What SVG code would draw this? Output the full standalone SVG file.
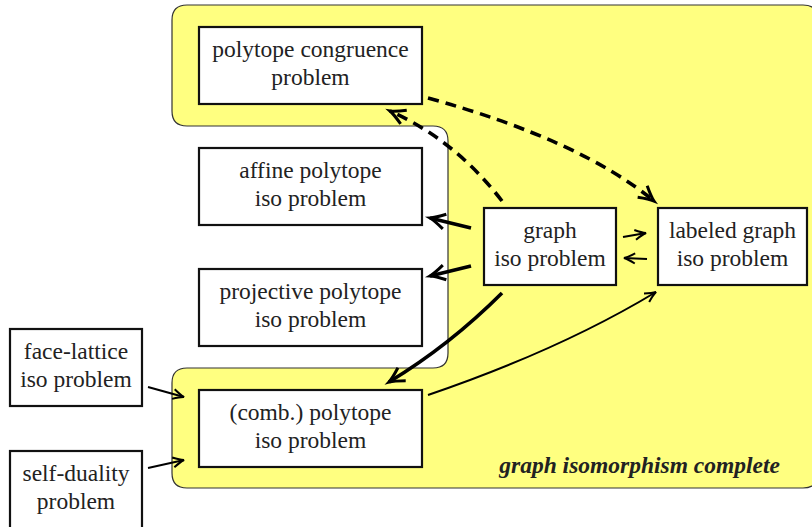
<svg xmlns="http://www.w3.org/2000/svg" width="812" height="527" viewBox="0 0 812 527">
<style>
.box{fill:#fff;stroke:#111;stroke-width:2.2}
.t{font-family:'Liberation Serif','Times New Roman',serif;font-size:23.5px;fill:#222;text-anchor:middle}
.gi{font-family:'Liberation Serif','Times New Roman',serif;font-size:23.5px;font-weight:bold;font-style:italic;fill:#222;text-anchor:end}
.thick{fill:none;stroke:#000;stroke-width:3.6;marker-end:url(#hk)}
.thin{fill:none;stroke:#000;stroke-width:2;marker-end:url(#hs)}
.dash{fill:none;stroke:#000;stroke-width:3.6;stroke-dasharray:11,7;marker-end:url(#hk)}
</style>
<defs>
<marker id="hk" markerUnits="userSpaceOnUse" orient="auto" refX="0" refY="0" markerWidth="30" markerHeight="30" viewBox="-20 -15 30 30" overflow="visible">
<path d="M-15,-7.5 Q-5,-1.5 0,0 Q-5,1.5 -15,7.5" fill="none" stroke="#000" stroke-width="3"/>
</marker>
<marker id="hs" markerUnits="userSpaceOnUse" orient="auto" refX="0" refY="0" markerWidth="30" markerHeight="30" viewBox="-20 -15 30 30" overflow="visible">
<path d="M-11,-5 Q-4,-1 0,0 Q-4,1 -11,5" fill="none" stroke="#000" stroke-width="2"/>
</marker>
</defs>
<rect width="812" height="527" fill="#fff"/>
<g id="region">
<path d="M172,20 Q172,5 187,5 H803 Q818,5 818,20 V473 Q818,488 803,488 H187 Q172,488 172,473 V383 Q172,368 187,368 H433 Q448,368 448,353 V141 Q448,126 433,126 H187 Q172,126 172,111 Z" fill="#ffff80" stroke="#333" stroke-width="1.2"/>
<text class="gi" x="780" y="473">graph isomorphism complete</text>
</g>
<g id="connectors">
<path class="dash" d="M502,201 Q455,140 390,111"/>
<path class="dash" d="M428,98 Q580,140 654,201"/>
<path class="thick" d="M471,228 L430,218"/>
<path class="thick" d="M471,266 L430,276"/>
<path class="thick" d="M502,293 Q450,345 389,382"/>
<path class="thin" d="M623,237 L646,233"/>
<path class="thin" d="M647,259 L624,258"/>
<path class="thin" d="M428,395 Q560,350 656,292"/>
<path class="thin" d="M148,387 L184,397"/>
<path class="thin" d="M148,468 L184,460"/>
</g>
<g id="congruence">
<rect class="box" x="199" y="27" width="223" height="77"/>
<text class="t" x="310.5" y="57">polytope congruence</text>
<text class="t" x="310.5" y="85">problem</text>
</g>
<g id="affine">
<rect class="box" x="199" y="148" width="223" height="77"/>
<text class="t" x="310.5" y="178">affine polytope</text>
<text class="t" x="310.5" y="206">iso problem</text>
</g>
<g id="projective">
<rect class="box" x="199" y="269" width="223" height="77"/>
<text class="t" x="310.5" y="299">projective polytope</text>
<text class="t" x="310.5" y="327">iso problem</text>
</g>
<g id="comb">
<rect class="box" x="199" y="390" width="223" height="77"/>
<text class="t" x="310.5" y="420">(comb.) polytope</text>
<text class="t" x="310.5" y="448">iso problem</text>
</g>
<g id="facelattice">
<rect class="box" x="10" y="329" width="132" height="77"/>
<text class="t" x="76" y="359">face-lattice</text>
<text class="t" x="76" y="387">iso problem</text>
</g>
<g id="selfduality">
<rect class="box" x="10" y="451" width="132" height="80"/>
<text class="t" x="76" y="481">self-duality</text>
<text class="t" x="76" y="509">problem</text>
</g>
<g id="graph">
<rect class="box" x="484" y="208" width="132" height="77"/>
<text class="t" x="550" y="238">graph</text>
<text class="t" x="550" y="266">iso problem</text>
</g>
<g id="labeled">
<rect class="box" x="658" y="208" width="149" height="77"/>
<text class="t" x="732.5" y="238">labeled graph</text>
<text class="t" x="732.5" y="266">iso problem</text>
</g>
</svg>
